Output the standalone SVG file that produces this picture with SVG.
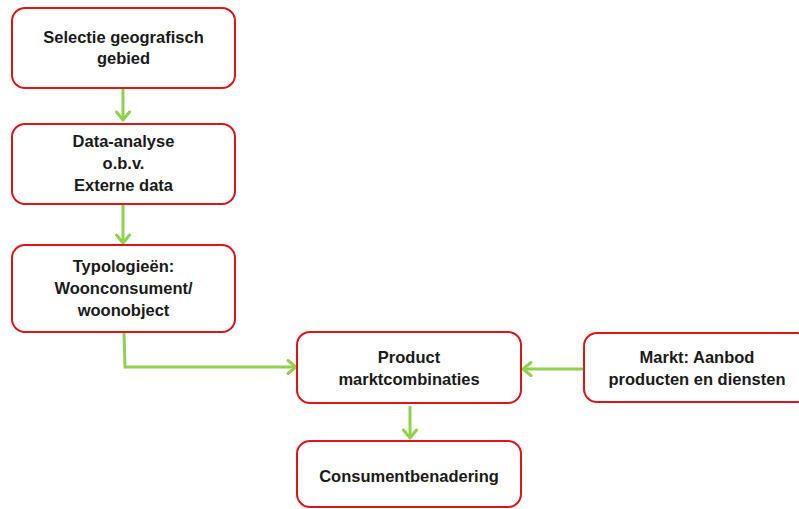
<svg xmlns="http://www.w3.org/2000/svg" width="799" height="509" viewBox="0 0 799 509">
  <style>
    .box { fill: #ffffff; stroke: #d9161c; stroke-width: 2; }
    .lbl { font-family: "Liberation Sans", Arial, sans-serif; font-weight: bold; font-size: 16.5px; fill: #1a1a1a; text-anchor: middle; }
    .edge { fill: none; stroke: #92d050; stroke-width: 3; }
  </style>
  <defs>
    <marker id="head" markerWidth="14" markerHeight="16" refX="10" refY="8" orient="auto" markerUnits="userSpaceOnUse">
      <polyline points="2,1.5 10,8 2,14.5" fill="none" stroke="#92d050" stroke-width="3" stroke-linecap="round" stroke-linejoin="round"/>
    </marker>
  </defs>
  <rect width="799" height="509" fill="#ffffff"/>

  <g id="connectors">
    <line class="edge" x1="123" y1="88" x2="123" y2="120" marker-end="url(#head)"/>
    <line class="edge" x1="123" y1="205" x2="123" y2="243" marker-end="url(#head)"/>
    <polyline class="edge" points="124,333 125,367 296,367" marker-end="url(#head)"/>
    <line class="edge" x1="584" y1="369" x2="523" y2="369" marker-end="url(#head)"/>
    <line class="edge" x1="410" y1="406" x2="410" y2="438" marker-end="url(#head)"/>
  </g>

  <g id="selectie">
    <rect class="box" x="12" y="8" width="223" height="80" rx="13"/>
    <text class="lbl" x="123.5" y="43">Selectie geografisch</text>
    <text class="lbl" x="123.5" y="64">gebied</text>
  </g>

  <g id="data-analyse">
    <rect class="box" x="12" y="124" width="223" height="80" rx="13"/>
    <text class="lbl" x="123.5" y="147">Data-analyse</text>
    <text class="lbl" x="123.5" y="169">o.b.v.</text>
    <text class="lbl" x="123.5" y="191">Externe data</text>
  </g>

  <g id="typologieen">
    <rect class="box" x="12" y="245" width="223" height="87" rx="13"/>
    <text class="lbl" x="123.5" y="272">Typologieën:</text>
    <text class="lbl" x="123.5" y="294">Woonconsument/</text>
    <text class="lbl" x="123.5" y="316">woonobject</text>
  </g>

  <g id="pmc">
    <rect class="box" x="297" y="332" width="224" height="71" rx="13"/>
    <text class="lbl" x="409" y="363">Product</text>
    <text class="lbl" x="409" y="385">marktcombinaties</text>
  </g>

  <g id="markt">
    <rect class="box" x="584" y="333" width="226" height="69" rx="13"/>
    <text class="lbl" x="697" y="363">Markt: Aanbod</text>
    <text class="lbl" x="697" y="385">producten en diensten</text>
  </g>

  <g id="consumentbenadering">
    <rect class="box" x="297" y="441" width="224" height="66" rx="13"/>
    <text class="lbl" x="409" y="482">Consumentbenadering</text>
  </g>
</svg>
